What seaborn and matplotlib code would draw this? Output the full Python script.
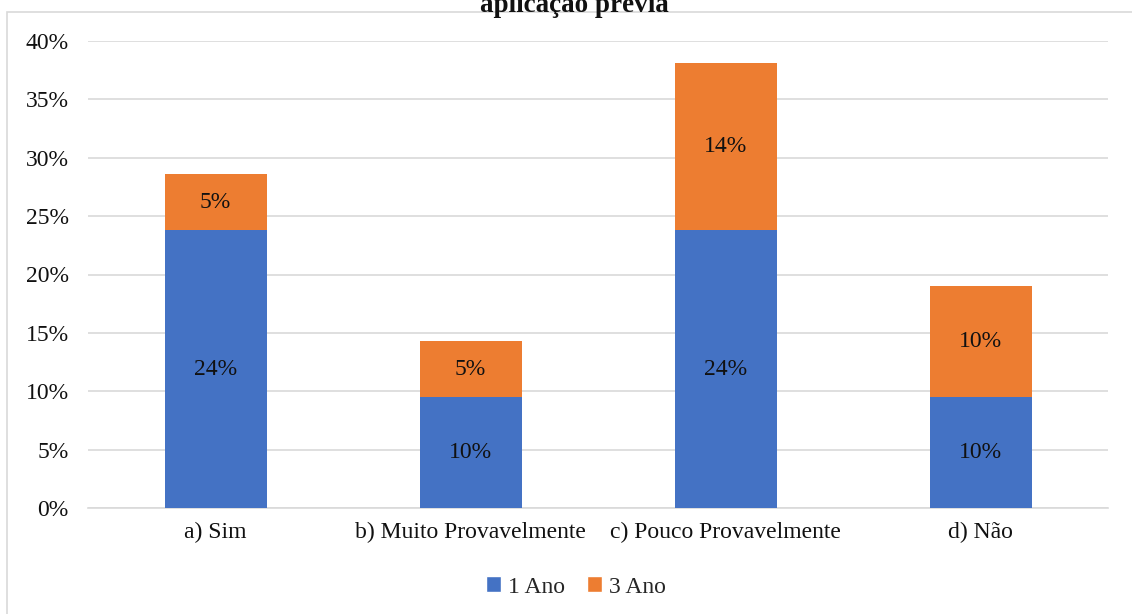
import matplotlib
matplotlib.use("Agg")
import matplotlib.pyplot as plt
import seaborn as sns
import pandas as pd
from matplotlib.patches import Patch, Rectangle

categories = ["a) Sim", "b) Muito Provavelmente", "c) Pouco Provavelmente", "d) Não"]
ano1 = [23.81, 9.52, 23.81, 9.52]
ano3 = [4.76, 4.76, 14.29, 9.52]
series_names = ["1 Ano", "3 Ano"]
title = "aplicação prévia"

blue = "#4472C4"
orange = "#ED7D31"

sns.set_theme(style="white")
plt.rcParams["font.family"] = ["Liberation Serif", "DejaVu Serif"]

df = pd.DataFrame({"cat": categories, "a1": ano1, "a3": ano3})
df["total"] = df["a1"] + df["a3"]

fig = plt.figure(figsize=(11.32, 6.14), dpi=100)
ax = fig.add_axes([88 / 1132, 1 - 508 / 614, 1020 / 1132, 467 / 614])

# outer chart frame
fig.patches.append(Rectangle((7 / 1132, -0.1), 1.2, 1 - 12 / 614 + 0.1,
                             transform=fig.transFigure, fill=False,
                             edgecolor="#D9D9D9", linewidth=1.2, zorder=0))

# stacked bars: totals in orange, first-year share in blue on top
sns.barplot(data=df, x="cat", y="total", color=orange, width=0.4,
            saturation=1, linewidth=0, ax=ax, zorder=3)
sns.barplot(data=df, x="cat", y="a1", color=blue, width=0.4,
            saturation=1, linewidth=0, ax=ax, zorder=4)

fs = 17
for i, (v1, v3) in enumerate(zip(ano1, ano3)):
    ax.text(i, v1 / 2, f"{v1:.0f}%", ha="center", va="center",
            fontsize=fs, color="#111111", zorder=5)
    ax.text(i, v1 + v3 / 2, f"{v3:.0f}%", ha="center", va="center",
            fontsize=fs, color="#111111", zorder=5)

ax.set_ylim(0, 40)
ax.set_xlim(-0.5, 3.5)
ax.set_yticks(range(0, 41, 5))
ax.set_yticklabels([f"{t}%" for t in range(0, 41, 5)], fontsize=fs, color="#111111")
ax.tick_params(axis="x", labelsize=fs, labelcolor="#111111", length=0, pad=10)
ax.tick_params(axis="y", length=0, pad=14)
ax.set_xlabel("")
ax.set_ylabel("")
ax.yaxis.grid(True, color="#D9D9D9", linewidth=1.2, zorder=0)
ax.set_axisbelow(True)
for s in ["top", "right", "left"]:
    ax.spines[s].set_visible(False)
ax.spines["bottom"].set_color("#D9D9D9")
ax.spines["bottom"].set_linewidth(1.2)

fig.text(574 / 1132, 1 - 5 / 614, title, ha="center", va="center",
         fontsize=19.5, fontweight="bold", color="#111111")

handles = [Patch(facecolor=blue), Patch(facecolor=orange)]
fig.legend(handles, series_names, loc="center", bbox_to_anchor=(576 / 1132, 1 - 587 / 614),
           ncol=2, frameon=False, fontsize=fs, handlelength=0.65, handleheight=0.65,
           handletextpad=0.3, columnspacing=0.9)

fig.savefig("out.png", dpi=100)
